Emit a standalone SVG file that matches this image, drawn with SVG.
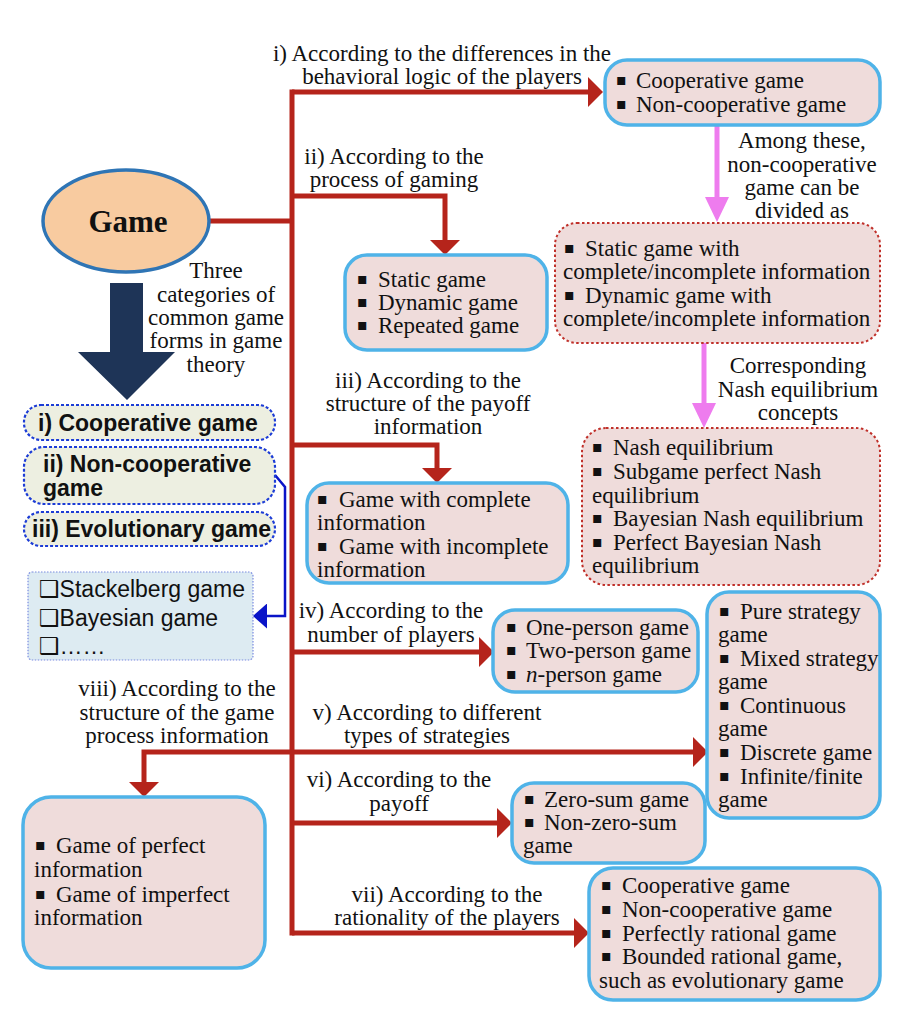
<svg xmlns="http://www.w3.org/2000/svg" width="906" height="1028" viewBox="0 0 906 1028">
<style>
.t{font-family:"Liberation Serif","Times New Roman",serif;font-size:23px;fill:#111}
.c{text-anchor:middle}
.b{font-family:"DejaVu Sans",sans-serif;font-size:16px;fill:#111}
.sb{font-family:"Liberation Sans",Arial,sans-serif;font-size:23px;font-weight:bold;fill:#111}
.s{font-family:"Liberation Sans",Arial,"DejaVu Sans",sans-serif;font-size:23px;fill:#111}
.box{fill:#EFDCDB;stroke:#4FB3E8;stroke-width:3.5}
.dbox{fill:#EFDCDB;stroke:#C0302A;stroke-width:2;stroke-dasharray:2.5 2.5}
.lbox{fill:#EDEFE1;stroke:#1C3CD6;stroke-width:2.2;stroke-dasharray:3 2}
.red{fill:none;stroke:#B5241B;stroke-width:5}
.vio{fill:none;stroke:#EE7CEE;stroke-width:5}
.blu{fill:none;stroke:#0A14C8;stroke-width:2.5}
</style>
<defs>
<marker id="ra" markerUnits="userSpaceOnUse" viewBox="0 0 15 30" refX="0" refY="15" markerWidth="15" markerHeight="30" orient="auto"><path d="M0,0 L15,15 L0,30 Z" fill="#B5241B"/></marker>
<marker id="va" markerUnits="userSpaceOnUse" viewBox="0 0 25 24" refX="0" refY="12" markerWidth="25" markerHeight="24" orient="auto"><path d="M0,0 L25,12 L0,24 Z" fill="#EE7CEE"/></marker>
<marker id="ba" markerUnits="userSpaceOnUse" viewBox="0 0 14 25" refX="0" refY="12.5" markerWidth="14" markerHeight="25" orient="auto"><path d="M0,0 L14,12.5 L0,25 Z" fill="#0A14C8"/></marker>
</defs>

<g id="connectors">
<path class="red" d="M292,89.5 V935.5"/>
<path class="red" d="M209,221 H292"/>
<path class="red" d="M292,92 H588" marker-end="url(#ra)"/>
<path class="red" d="M292,196 H445 V240" marker-end="url(#ra)"/>
<path class="red" d="M292,445 H437 V468" marker-end="url(#ra)"/>
<path class="red" d="M292,652 H479" marker-end="url(#ra)"/>
<path class="red" d="M292,752 H693" marker-end="url(#ra)"/>
<path class="red" d="M292,752 H144 V782" marker-end="url(#ra)"/>
<path class="red" d="M292,823 H497" marker-end="url(#ra)"/>
<path class="red" d="M292,933 H574" marker-end="url(#ra)"/>
<path class="vio" d="M717,125 V197" marker-end="url(#va)"/>
<path class="vio" d="M704,343 V403" marker-end="url(#va)"/>
<path class="blu" d="M275,475 L285,487 V616 H267" marker-end="url(#ba)"/>
<polygon id="big-arrow" points="110,283 143,283 143,352 175,352 127,400 78,352 110,352" fill="#1E3457"/>
</g>

<g id="edge-labels">
<text class="t c" x="442" y="61">i) According to the differences in the</text>
<text class="t c" x="442" y="84">behavioral logic of the players</text>
<text class="t c" x="394" y="164">ii) According to the</text>
<text class="t c" x="394" y="187">process of gaming</text>
<text class="t c" x="428" y="388">iii) According to the</text>
<text class="t c" x="428" y="411">structure of the payoff</text>
<text class="t c" x="428" y="434">information</text>
<text class="t c" x="391" y="618">iv) According to the</text>
<text class="t c" x="391" y="642">number of players</text>
<text class="t c" x="427" y="720">v) According to different</text>
<text class="t c" x="427" y="743">types of strategies</text>
<text class="t c" x="399" y="787">vi) According to the</text>
<text class="t c" x="399" y="811">payoff</text>
<text class="t c" x="447" y="902">vii) According to the</text>
<text class="t c" x="447" y="925">rationality of the players</text>
<text class="t c" x="177" y="696">viii) According to the</text>
<text class="t c" x="177" y="720">structure of the game</text>
<text class="t c" x="177" y="743">process information</text>
<text class="t c" x="802" y="148">Among these,</text>
<text class="t c" x="802" y="172">non-cooperative</text>
<text class="t c" x="802" y="195">game can be</text>
<text class="t c" x="802" y="218">divided as</text>
<text class="t c" x="798" y="373">Corresponding</text>
<text class="t c" x="798" y="397">Nash equilibrium</text>
<text class="t c" x="798" y="420">concepts</text>
<text class="t c" x="216" y="278">Three</text>
<text class="t c" x="216" y="302">categories of</text>
<text class="t c" x="216" y="325">common game</text>
<text class="t c" x="216" y="348">forms in game</text>
<text class="t c" x="216" y="372">theory</text>
</g>

<g id="game">
<ellipse cx="126" cy="221" rx="83" ry="51" fill="#F8CBA0" stroke="#2F75B5" stroke-width="3.5"/>
<text class="t c" x="128" y="232" style="font-size:31px;font-weight:bold">Game</text>
</g>

<g id="behavior-box">
<rect class="box" x="605" y="60" width="275" height="65" rx="22"/>
<text class="t" y="88"><tspan class="b" x="616" dy="-3">▪</tspan><tspan x="636" y="88">Cooperative game</tspan></text>
<text class="t" y="112"><tspan class="b" x="616" dy="-3">▪</tspan><tspan x="636" y="112">Non-cooperative game</tspan></text>
</g>

<g id="noncoop-division">
<rect class="dbox" x="555" y="223" width="325" height="120" rx="22"/>
<text class="t" y="256"><tspan class="b" x="564" dy="-3">▪</tspan><tspan x="585" y="256">Static game with</tspan></text>
<text class="t" x="563" y="279">complete/incomplete information</text>
<text class="t" y="303"><tspan class="b" x="564" dy="-3">▪</tspan><tspan x="585" y="303">Dynamic game with</tspan></text>
<text class="t" x="563" y="326">complete/incomplete information</text>
</g>

<g id="nash-concepts">
<rect class="dbox" x="582" y="428" width="298" height="157" rx="24"/>
<text class="t" y="455"><tspan class="b" x="592" dy="-3">▪</tspan><tspan x="613" y="455">Nash equilibrium</tspan></text>
<text class="t" y="479"><tspan class="b" x="592" dy="-3">▪</tspan><tspan x="613" y="479">Subgame perfect Nash</tspan></text>
<text class="t" x="592" y="503">equilibrium</text>
<text class="t" y="526"><tspan class="b" x="592" dy="-3">▪</tspan><tspan x="613" y="526">Bayesian Nash equilibrium</tspan></text>
<text class="t" y="550"><tspan class="b" x="592" dy="-3">▪</tspan><tspan x="613" y="550">Perfect Bayesian Nash</tspan></text>
<text class="t" x="592" y="573">equilibrium</text>
</g>

<g id="process-box">
<rect class="box" x="345" y="255" width="202" height="95" rx="22"/>
<text class="t" y="287"><tspan class="b" x="357" dy="-3">▪</tspan><tspan x="378" y="287">Static game</tspan></text>
<text class="t" y="310"><tspan class="b" x="357" dy="-3">▪</tspan><tspan x="378" y="310">Dynamic game</tspan></text>
<text class="t" y="333"><tspan class="b" x="357" dy="-3">▪</tspan><tspan x="378" y="333">Repeated game</tspan></text>
</g>

<g id="payoff-info-box">
<rect class="box" x="307" y="483" width="261" height="100" rx="22"/>
<text class="t" y="507"><tspan class="b" x="317" dy="-3">▪</tspan><tspan x="339" y="507">Game with complete</tspan></text>
<text class="t" x="317" y="530">information</text>
<text class="t" y="554"><tspan class="b" x="317" dy="-3">▪</tspan><tspan x="339" y="554">Game with incomplete</tspan></text>
<text class="t" x="317" y="577">information</text>
</g>

<g id="players-box">
<rect class="box" x="493" y="610" width="205" height="82" rx="22"/>
<text class="t" y="635"><tspan class="b" x="506" dy="-3">▪</tspan><tspan x="526" y="635">One-person game</tspan></text>
<text class="t" y="658"><tspan class="b" x="506" dy="-3">▪</tspan><tspan x="526" y="658">Two-person game</tspan></text>
<text class="t" y="682"><tspan class="b" x="506" dy="-3">▪</tspan><tspan x="526" y="682" font-style="italic">n</tspan><tspan>-person game</tspan></text>
</g>

<g id="strategy-box">
<rect class="box" x="707" y="592" width="173" height="226" rx="22"/>
<text class="t" y="619"><tspan class="b" x="719" dy="-3">▪</tspan><tspan x="740" y="619">Pure strategy</tspan></text>
<text class="t" x="718" y="642">game</text>
<text class="t" y="666"><tspan class="b" x="719" dy="-3">▪</tspan><tspan x="740" y="666">Mixed strategy</tspan></text>
<text class="t" x="718" y="689">game</text>
<text class="t" y="713"><tspan class="b" x="719" dy="-3">▪</tspan><tspan x="740" y="713">Continuous</tspan></text>
<text class="t" x="718" y="736">game</text>
<text class="t" y="760"><tspan class="b" x="719" dy="-3">▪</tspan><tspan x="740" y="760">Discrete game</tspan></text>
<text class="t" y="784"><tspan class="b" x="719" dy="-3">▪</tspan><tspan x="740" y="784">Infinite/finite</tspan></text>
<text class="t" x="718" y="807">game</text>
</g>

<g id="zero-sum-box">
<rect class="box" x="512" y="783" width="193" height="80" rx="22"/>
<text class="t" y="807"><tspan class="b" x="524" dy="-3">▪</tspan><tspan x="544" y="807">Zero-sum game</tspan></text>
<text class="t" y="830"><tspan class="b" x="524" dy="-3">▪</tspan><tspan x="544" y="830">Non-zero-sum</tspan></text>
<text class="t" x="523" y="853">game</text>
</g>

<g id="rationality-box">
<rect class="box" x="589" y="868" width="291" height="132" rx="24"/>
<text class="t" y="893"><tspan class="b" x="601" dy="-3">▪</tspan><tspan x="622" y="893">Cooperative game</tspan></text>
<text class="t" y="917"><tspan class="b" x="601" dy="-3">▪</tspan><tspan x="622" y="917">Non-cooperative game</tspan></text>
<text class="t" y="941"><tspan class="b" x="601" dy="-3">▪</tspan><tspan x="622" y="941">Perfectly rational game</tspan></text>
<text class="t" y="964"><tspan class="b" x="601" dy="-3">▪</tspan><tspan x="622" y="964">Bounded rational game,</tspan></text>
<text class="t" x="599" y="988">such as evolutionary game</text>
</g>

<g id="perfect-info-box">
<rect class="box" x="23" y="797" width="242" height="171" rx="28"/>
<text class="t" y="853"><tspan class="b" x="35" dy="-3">▪</tspan><tspan x="56" y="853">Game of perfect</tspan></text>
<text class="t" x="34" y="877">information</text>
<text class="t" y="902"><tspan class="b" x="35" dy="-3">▪</tspan><tspan x="56" y="902">Game of imperfect</tspan></text>
<text class="t" x="34" y="925">information</text>
</g>

<g id="cat-cooperative">
<rect class="lbox" x="24" y="405" width="251" height="35" rx="17"/>
<text class="sb" x="38" y="431">i) Cooperative game</text>
</g>
<g id="cat-noncooperative">
<rect class="lbox" x="24" y="447" width="251" height="57" rx="20"/>
<text class="sb" x="43" y="472">ii) Non-cooperative</text>
<text class="sb" x="43" y="496">game</text>
</g>
<g id="cat-evolutionary">
<rect class="lbox" x="24" y="512" width="251" height="34" rx="17"/>
<text class="sb" x="32" y="537">iii) Evolutionary game</text>
</g>

<g id="examples-list">
<rect x="28" y="572" width="225" height="88" rx="4" fill="#DDEBF2" stroke="#7A8BE0" stroke-width="1.2" stroke-dasharray="1.5 1.5"/>
<text class="s" x="39" y="597">❑Stackelberg game</text>
<text class="s" x="39" y="626">❑Bayesian game</text>
<text class="s" x="39" y="654">❑……</text>
</g>
</svg>
